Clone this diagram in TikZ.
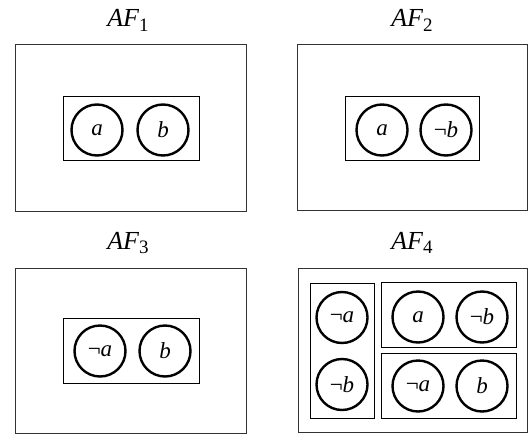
\documentclass[tikz,border=0pt]{standalone}
\usepackage{fontspec}
\setmainfont{Liberation Serif}
\usetikzlibrary{shadows}
\newcommand{\afname}[1]{\textit{AF}\raisebox{-0.18em}{\fontsize{19}{19}\selectfont #1}}
\begin{document}
\begin{tikzpicture}[x=1pt,y=-1pt,
  group/.style={draw=black,line width=1pt,fill=white,
    drop shadow={shadow xshift=1pt,shadow yshift=-1.2pt,opacity=0.25}},
  arg/.style={circle,draw=black,line width=2.4pt,fill=white,minimum size=51pt,inner sep=0pt,
    font=\fontsize{23}{23}\selectfont\itshape,
    drop shadow={shadow xshift=0.8pt,shadow yshift=-1pt,opacity=0.2}},
  title/.style={anchor=base,font=\fontsize{26}{26}\selectfont}]
\useasboundingbox (0,0) rectangle (529,436);

% AF_1
\node[title] (t1) at (128,27) {\afname{1}};
\node[draw=black!80,line width=1pt,minimum width=231pt,minimum height=166pt] (o1) at (130.5,128) {};
\node[group,minimum width=136pt,minimum height=64pt] (g1) at (131,128) {};
\node[arg] (a1) at (97,130) {a};
\node[arg] (b1) at (163,130) {b};

% AF_2
\node[title] (t2) at (412,27) {\afname{2}};
\node[draw=black!80,line width=1pt,minimum width=230pt,minimum height=165pt] (o2) at (412,127.5) {};
\node[group,minimum width=134pt,minimum height=64pt] (g2) at (412,128) {};
\node[arg] (a2) at (382,130) {a};
\node[arg] (b2) at (446,130) {{\upshape ¬}b};

% AF_3
\node[title] (t3) at (128,249) {\afname{3}};
\node[draw=black!80,line width=1pt,minimum width=231pt,minimum height=165pt] (o3) at (130.5,350.5) {};
\node[group,minimum width=136pt,minimum height=65pt] (g3) at (131,350.5) {};
\node[arg] (a3) at (100,351) {{\upshape ¬}a};
\node[arg] (b3) at (165,351) {b};

% AF_4
\node[title] (t4) at (412,249) {\afname{4}};
\node[draw=black!80,line width=1pt,minimum width=229pt,minimum height=164pt] (o4) at (412.5,350) {};
\node[group,minimum width=64pt,minimum height=135pt] (g4l) at (342,350.5) {};
\node[group,minimum width=135pt,minimum height=65pt] (g4t) at (448.5,314.5) {};
\node[group,minimum width=135pt,minimum height=65pt] (g4b) at (448.5,385.5) {};
\node[arg] (na4) at (342,317.5) {{\upshape ¬}a};
\node[arg] (nb4) at (342,384.5) {{\upshape ¬}b};
\node[arg] (a4) at (418,317) {a};
\node[arg] (nb4t) at (482,317) {{\upshape ¬}b};
\node[arg] (na4b) at (418,386) {{\upshape ¬}a};
\node[arg] (b4) at (482,386) {b};
\end{tikzpicture}
\end{document}
